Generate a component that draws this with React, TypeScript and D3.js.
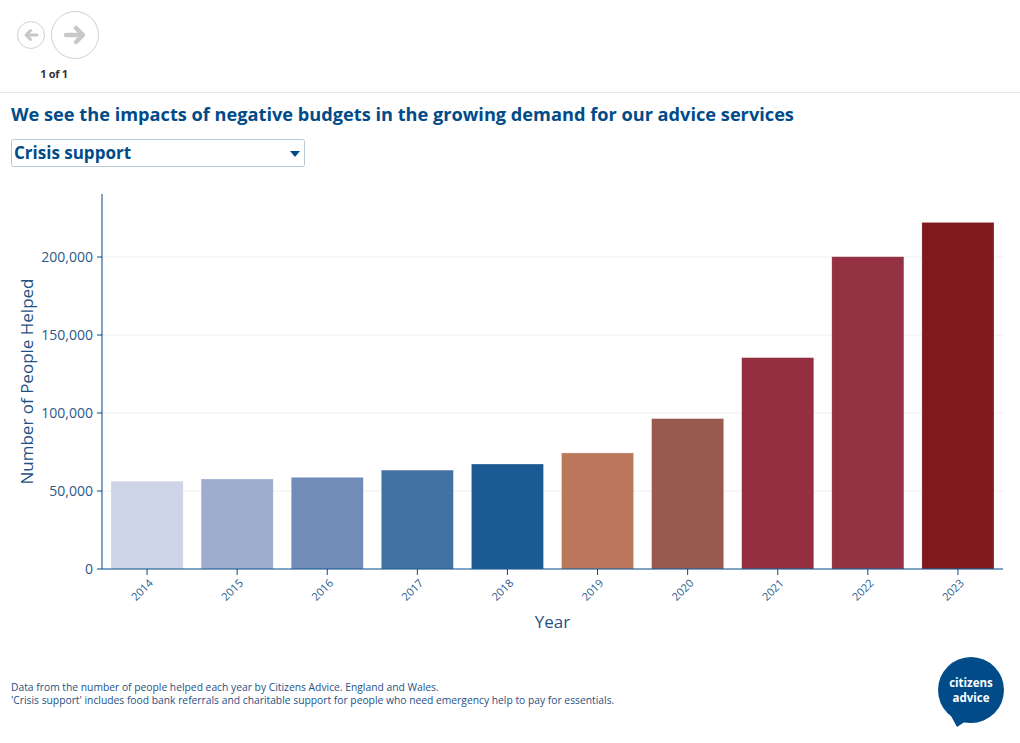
import React from "react";
import * as d3 from "d3";

const years = ["2014", "2015", "2016", "2017", "2018", "2019", "2020", "2021", "2022", "2023"];
const peopleHelped = [56300, 57700, 58800, 63400, 67300, 74400, 96400, 135500, 200200, 222200];
const barColors = ["#cdd4e7", "#9eadcf", "#728cb8", "#4271a3", "#1b5a92", "#bb775c", "#98594e", "#932f41", "#943143", "#7e191c"];
const yTicks = [0, 50000, 100000, 150000, 200000];
const yMax = 240400;

const BLUE = "#004b88";
const FONT = "'Open Sans', 'Noto Sans', sans-serif";

export default function App() {
  const left = 102, right = 1003, top = 194, bottom = 569;
  const x = d3.scaleBand<string>().domain(years).range([left, right]).paddingInner(0.2).paddingOuter(0.1);
  const y = d3.scaleLinear().domain([0, yMax]).range([bottom, top]);
  const fmt = d3.format(",");

  return (
    <svg width={1020} height={743} style={{ position: "absolute", left: 0, top: 0, fontFamily: FONT }}>
      <rect width={1020} height={743} fill="#fff" />
      {/* nav */}
      <circle cx={31} cy={35} r={13.5} fill="none" stroke="#d0d0d0" strokeWidth={1} />
      <path d="M37,35 H26 M30.5,30.5 L26,35 L30.5,39.5" fill="none" stroke="#c8c8c8" strokeWidth={3} strokeLinecap="round" strokeLinejoin="round" />
      <circle cx={75} cy={35} r={23.5} fill="none" stroke="#d0d0d0" strokeWidth={1} />
      <path d="M66,35 H83 M76,28 L83,35 L76,42" fill="none" stroke="#c8c8c8" strokeWidth={4.5} strokeLinecap="round" strokeLinejoin="round" />
      <text x={54} y={78} textAnchor="middle" fontSize={11} fontWeight={700} fill="#333" letterSpacing={-0.3}>1 of 1</text>
      <line x1={0} x2={1020} y1={92.5} y2={92.5} stroke="#e8e8e8" />

      <text x={11} y={121} fontSize={18.2} fontWeight={700} fill={BLUE}>We see the impacts of negative budgets in the growing demand for our advice services</text>

      {/* dropdown */}
      <rect x={11.5} y={139.5} width={293} height={27} rx={2} fill="#fff" stroke="#b9c6d6" />
      <text x={14} y={159} fontSize={17} fontWeight={700} fill={BLUE}>Crisis support</text>
      <path d="M290,151 L300,151 L295,157 Z" fill={BLUE} />

      {/* grid */}
      {yTicks.filter(t => t > 0).map(t => (
        <line key={t} x1={left} x2={right} y1={y(t)} y2={y(t)} stroke="#eeeeee" strokeWidth={1} />
      ))}

      {/* bars */}
      {years.map((yr, i) => (
        <rect key={yr} x={x(yr)} y={y(peopleHelped[i])} width={x.bandwidth()} height={bottom - y(peopleHelped[i])} fill={barColors[i]} stroke="#ffffff" strokeOpacity={0.5} strokeWidth={0.5} />
      ))}

      {/* y axis */}
      <line x1={left} x2={left} y1={top} y2={bottom} stroke={BLUE} strokeWidth={1} />
      {yTicks.map(t => (
        <g key={t}>
          <line x1={left - 5} x2={left} y1={y(t)} y2={y(t)} stroke={BLUE} />
          <text x={left - 9} y={y(t)} dy="0.35em" textAnchor="end" fontSize={14} fill="#2a5a8a">{fmt(t)}</text>
        </g>
      ))}
      <text transform={`translate(33,${(top + bottom) / 2}) rotate(-90)`} textAnchor="middle" fontSize={17} fill="#1f5185">Number of People Helped</text>

      {/* x axis */}
      <line x1={left} x2={right} y1={bottom} y2={bottom} stroke={BLUE} strokeWidth={1} />
      {years.map(yr => {
        const cx = (x(yr) as number) + x.bandwidth() / 2;
        return (
          <g key={yr}>
            <line x1={cx} x2={cx} y1={bottom} y2={bottom + 6} stroke={BLUE} />
            <text transform={`translate(${cx + 4},${bottom + 12}) rotate(-45)`} textAnchor="end" dy="0.35em" fontSize={11} fill="#2a5a8a">{yr}</text>
          </g>
        );
      })}
      <text x={(left + right) / 2} y={628} textAnchor="middle" fontSize={17} fill="#1f5185">Year</text>

      {/* footer */}
      <text x={11} y={691} fontSize={10.3} fill="#1f5185">Data from the number of people helped each year by Citizens Advice. England and Wales.</text>
      <text x={11} y={704} fontSize={10.3} fill="#1f5185">'Crisis support' includes food bank referrals and charitable support for people who need emergency help to pay for essentials.</text>

      {/* logo */}
      <circle cx={971} cy={690} r={33} fill={BLUE} />
      <path d="M950,714 L957,727 L966,721 Z" fill={BLUE} />
      <text x={971} y={686.5} textAnchor="middle" fontSize={11.5} fontWeight={700} fill="#fff">citizens</text>
      <text x={971} y={702.3} textAnchor="middle" fontSize={11.5} fontWeight={700} fill="#fff">advice</text>
    </svg>
  );
}
